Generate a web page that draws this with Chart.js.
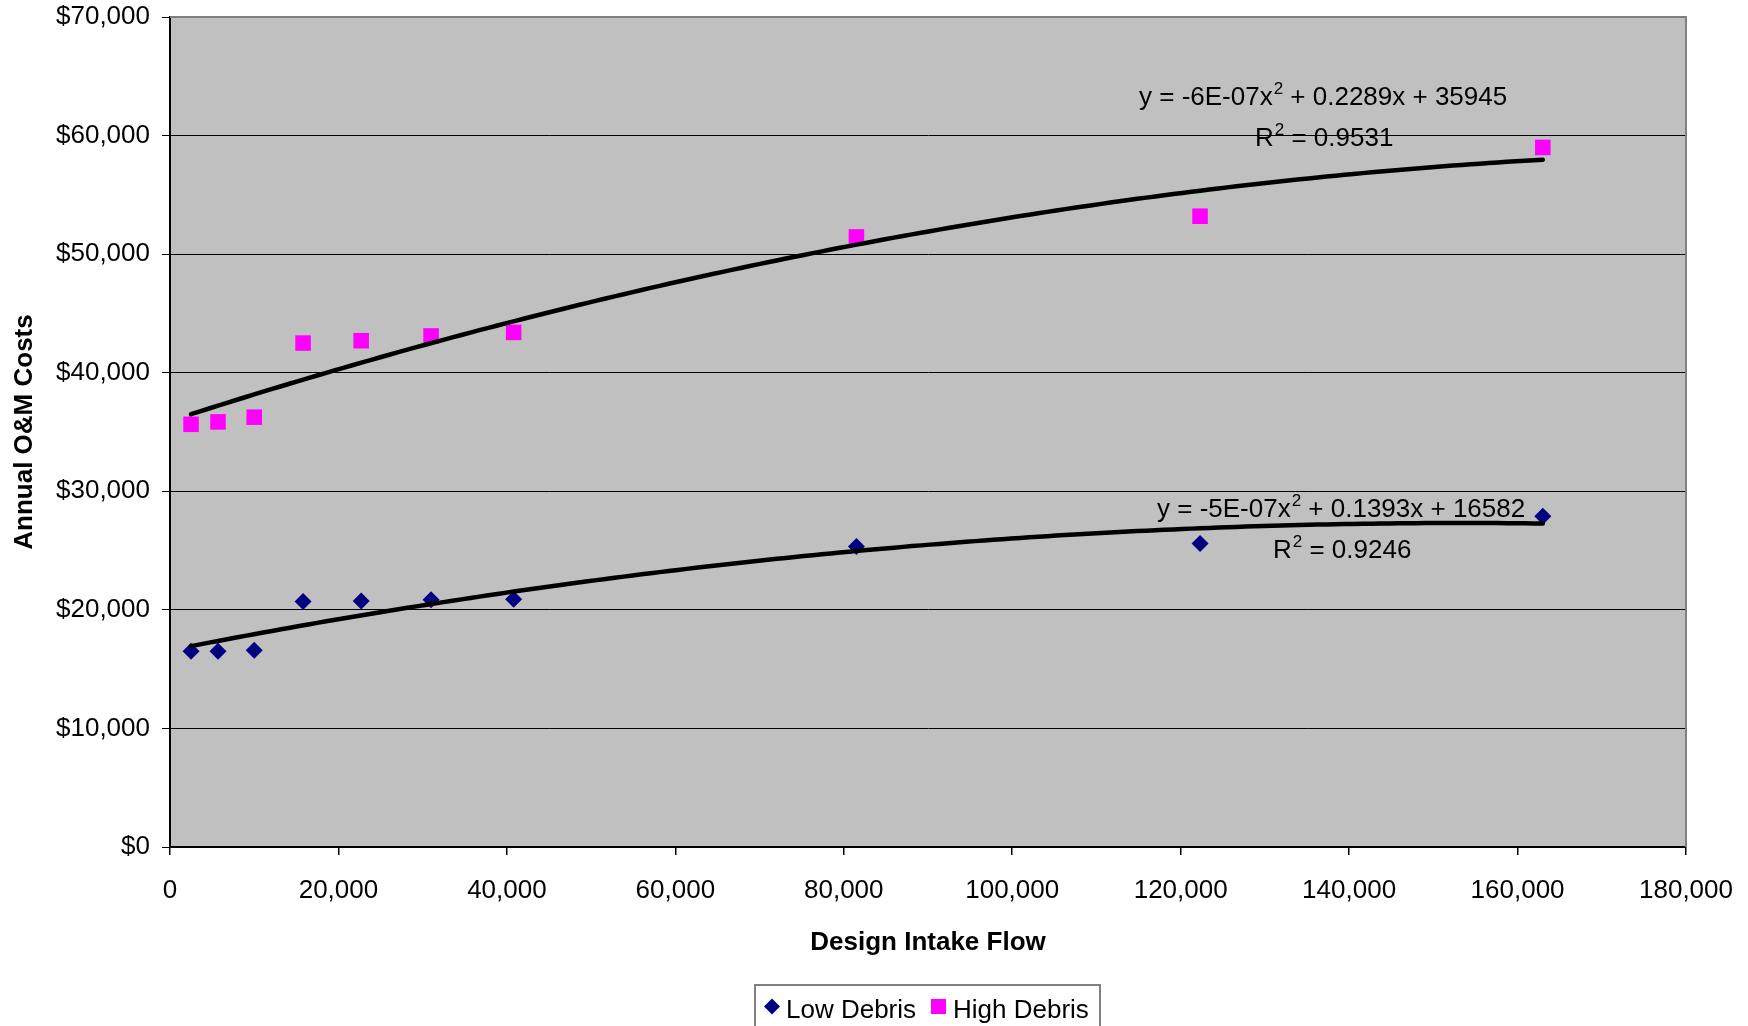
<!DOCTYPE html>
<html><head><meta charset="utf-8">
<script src="https://cdn.jsdelivr.net/npm/chart.js@4.4.1/dist/chart.umd.min.js"></script>
<style>html,body{margin:0;padding:0;background:#fff;overflow:hidden}canvas{display:block}</style>
</head><body>
<canvas id="c" width="1748" height="1026"></canvas>
<script>
// ---- data ----
const flows      = [2500, 5700, 10000, 15800, 22700, 31000, 40800, 81500, 122300, 163000];
const lowDebris  = [16500, 16500, 16600, 20700, 20750, 20850, 20900, 25350, 25600, 27900];
const highDebris = [35650, 35850, 36250, 42500, 42700, 43100, 43400, 51450, 53200, 59000];
const seriesNames = ['Low Debris', 'High Debris'];
const xTicks = [0, 20000, 40000, 60000, 80000, 100000, 120000, 140000, 160000, 180000];
const yTicks = [0, 10000, 20000, 30000, 40000, 50000, 60000, 70000];
const xTitle = 'Design Intake Flow';
const yTitle = 'Annual O&M Costs';
const lowEq  = ['y = -5E-07x', '2', ' + 0.1393x + 16582'];
const lowR2  = ['R', '2', ' = 0.9246'];
const highEq = ['y = -6E-07x', '2', ' + 0.2289x + 35945'];
const highR2 = ['R', '2', ' = 0.9531'];

const FONT = '"Liberation Sans", Arial, sans-serif';
const NAVY = '#000080', MAGENTA = '#FF00FF';

// least-squares quadratic fit (Excel-style polynomial trendline)
function polyFit2(xs, ys) {
  const s = 1e-5;
  let S = [0,0,0,0,0], T = [0,0,0];
  xs.forEach((x0, i) => {
    const x = x0 * s, y = ys[i];
    let p = 1;
    for (let k = 0; k < 5; k++) { S[k] += p; if (k < 3) T[k] += p * y; p *= x; }
  });
  const A = [[S[0],S[1],S[2],T[0]],[S[1],S[2],S[3],T[1]],[S[2],S[3],S[4],T[2]]];
  for (let i = 0; i < 3; i++) {
    for (let j = i + 1; j < 3; j++) {
      const f = A[j][i] / A[i][i];
      for (let k = i; k < 4; k++) A[j][k] -= f * A[i][k];
    }
  }
  const c = [0,0,0];
  for (let i = 2; i >= 0; i--) {
    let v = A[i][3];
    for (let k = i + 1; k < 3; k++) v -= A[i][k] * c[k];
    c[i] = v / A[i][i];
  }
  return x => { const t = x * s; return c[0] + c[1] * t + c[2] * t * t; };
}
function trend(xs, ys) {
  const f = polyFit2(xs, ys);
  const lo = Math.min(...xs), hi = Math.max(...xs), n = 150, out = [];
  for (let i = 0; i <= n; i++) { const x = lo + (hi - lo) * i / n; out.push({x, y: f(x)}); }
  return out;
}
const pts = ys => flows.map((x, i) => ({x, y: ys[i]}));

const fmt = v => v.toLocaleString('en-US');

function drawSup(ctx, parts, x, y) {
  ctx.textBaseline = 'alphabetic';
  ctx.textAlign = 'left';
  ctx.font = '26px ' + FONT;
  ctx.fillText(parts[0], x, y);
  x += ctx.measureText(parts[0]).width;
  ctx.font = '17px ' + FONT;
  ctx.fillText(parts[1], x + 1, y - 11);
  x += ctx.measureText(parts[1]).width + 1;
  ctx.font = '26px ' + FONT;
  ctx.fillText(parts[2], x, y);
}

const decor = {
  id: 'decor',
  beforeDraw(chart) {
    const {ctx, chartArea: a} = chart;
    ctx.save();
    ctx.fillStyle = '#C0C0C0';
    ctx.fillRect(a.left, a.top, a.right - a.left, a.bottom - a.top);
    ctx.restore();
  },
  beforeDatasetsDraw(chart) {
    const {ctx, chartArea: a} = chart;
    ctx.save();
    ctx.strokeStyle = '#808080';
    ctx.lineWidth = 2;
    ctx.beginPath();
    ctx.moveTo(a.left, a.top); ctx.lineTo(a.right, a.top); ctx.lineTo(a.right, a.bottom);
    ctx.stroke();
    ctx.restore();
  },
  afterDraw(chart) {
    const {ctx} = chart;
    ctx.save();
    ctx.fillStyle = '#000';
    drawSup(ctx, highEq, 1139, 105);
    drawSup(ctx, highR2, 1255, 146);
    drawSup(ctx, lowEq, 1157, 517);
    drawSup(ctx, lowR2, 1273, 558);

    // legend
    ctx.strokeStyle = '#808080';
    ctx.lineWidth = 2;
    ctx.strokeRect(755, 985, 345, 60);
    const cy = 1006.5;
    ctx.fillStyle = NAVY;
    ctx.beginPath();
    ctx.moveTo(772, cy - 8); ctx.lineTo(780, cy); ctx.lineTo(772, cy + 8); ctx.lineTo(764, cy);
    ctx.closePath(); ctx.fill();
    ctx.fillStyle = MAGENTA;
    ctx.fillRect(931, cy - 7.5, 15, 15);
    ctx.fillStyle = '#000';
    ctx.font = '26px ' + FONT;
    ctx.textBaseline = 'alphabetic';
    ctx.textAlign = 'left';
    ctx.fillText(seriesNames[0], 786, 1018);
    ctx.fillText(seriesNames[1], 953, 1018);
    ctx.restore();
  }
};

new Chart(document.getElementById('c'), {
  type: 'scatter',
  data: {
    datasets: [
      { type: 'line', label: 'trend-low', data: trend(flows, lowDebris), borderColor: '#000', borderWidth: 4.5,
        pointRadius: 0, tension: 0, fill: false, borderCapStyle: 'round', order: 0 },
      { type: 'line', label: 'trend-high', data: trend(flows, highDebris), borderColor: '#000', borderWidth: 4.5,
        pointRadius: 0, tension: 0, fill: false, borderCapStyle: 'round', order: 0 },
      { label: seriesNames[0], data: pts(lowDebris), pointStyle: 'rectRot', pointRadius: 8.5,
        backgroundColor: NAVY, borderColor: NAVY, borderWidth: 0, order: 1 },
      { label: seriesNames[1], data: pts(highDebris), pointStyle: 'rect', pointRadius: 11,
        backgroundColor: MAGENTA, borderColor: MAGENTA, borderWidth: 0, order: 1 }
    ]
  },
  options: {
    responsive: false,
    devicePixelRatio: 1,
    animation: false,
    events: [],
    layout: { padding: { left: 0, top: 17, right: 62, bottom: 0 } },
    plugins: { legend: { display: false }, tooltip: { enabled: false } },
    scales: {
      x: {
        type: 'linear', min: 0, max: 180000,
        afterBuildTicks: s => { s.ticks = xTicks.map(v => ({value: v})); },
        afterFit: s => { s.height = 179; s.paddingLeft = 0; s.paddingRight = 0; },
        ticks: { callback: v => fmt(v), color: '#000', font: { family: FONT, size: 26 }, padding: 20, maxRotation: 0, autoSkip: false },
        grid: { drawOnChartArea: false, drawTicks: true, tickLength: 8, color: '#000', lineWidth: 1.5 },
        border: { display: true, color: '#000', width: 2 },
        title: { display: true, text: xTitle, color: '#000', font: { family: FONT, size: 26, weight: 'bold' },
                 padding: { top: 0, bottom: 68 } }
      },
      y: {
        type: 'linear', min: 0, max: 70000,
        afterBuildTicks: s => { s.ticks = yTicks.map(v => ({value: v})); },
        afterFit: s => { s.width = 170; s.paddingTop = 0; s.paddingBottom = 0; },
        ticks: { callback: v => '$' + fmt(v), color: '#000', font: { family: FONT, size: 26 }, padding: 12 },
        grid: { drawTicks: true, tickLength: 8, color: '#000', lineWidth: 1 },
        border: { display: true, color: '#000', width: 2 },
        title: { display: true, text: yTitle, color: '#000', font: { family: FONT, size: 26, weight: 'bold' },
                 padding: { top: 9, bottom: 0 } }
      }
    }
  },
  plugins: [decor]
});
</script>
</body></html>
